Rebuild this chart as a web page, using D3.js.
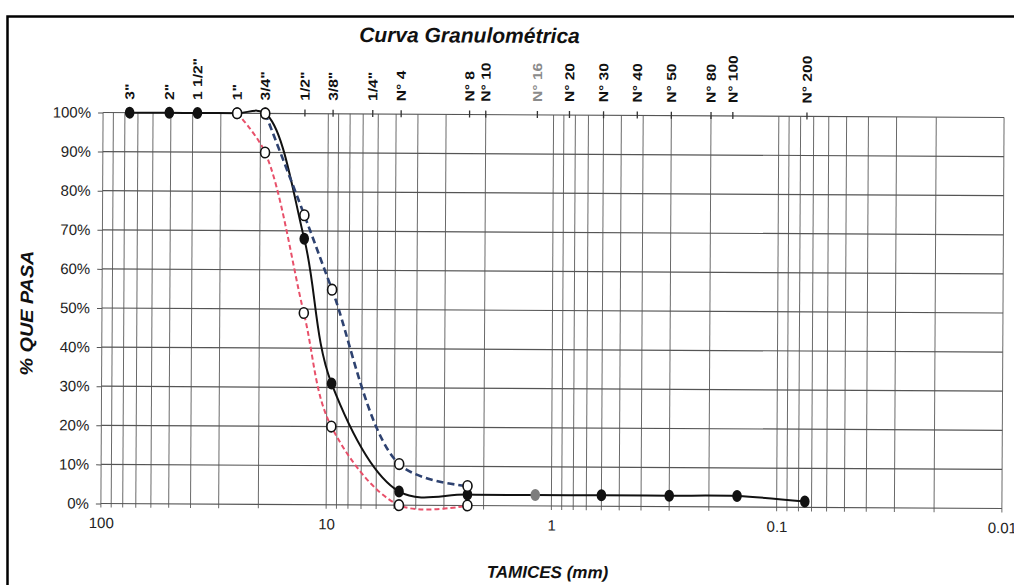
<!DOCTYPE html>
<html>
<head>
<meta charset="utf-8">
<script src="https://cdn.jsdelivr.net/npm/d3@7"></script>
<style>
  html, body { margin: 0; padding: 0; background: #fff; }
  svg { display: block; font-family: 'Liberation Sans', Arial, sans-serif; }
</style>
</head>
<body>
<div id="chart"></div>
<script>
/* global d3 */

//Sieve labels on the top axis (mm position)
var sieveLabels = ['3"', '2"', '1 1/2"', '1"', '3/4"', '1/2"', '3/8"', '1/4"', 'N° 4', 'N° 8', 'N° 10',
  'N° 16', 'N° 20', 'N° 30', 'N° 40', 'N° 50', 'N° 80', 'N° 100', 'N° 200'];
var sieveLabelMm = [76.2, 50.8, 38.1, 25.4, 19.05, 12.7, 9.525, 6.35, 4.75, 2.36, 2.0,
  1.18, 0.85, 0.6, 0.425, 0.3, 0.2, 0.16, 0.075];

//Sample (black, solid)
var sampleMm = [76.2, 50.8, 38.1, 25.4, 19.05, 12.7, 9.525, 4.75, 2.36, 1.18, 0.6, 0.3, 0.15, 0.075];
var samplePass = [100, 100, 100, 100, 100, 68, 31, 3.5, 2.8, 2.8, 2.8, 2.8, 2.8, 1.5];

//Upper limit (blue, dashed)
var upperMm = [19.05, 12.7, 9.525, 4.75, 2.36];
var upperPass = [100, 74, 55, 10.5, 5];

//Lower limit (red, dashed)
var lowerMm = [25.4, 19.05, 12.7, 9.525, 4.75, 2.36];
var lowerPass = [100, 90, 49, 20, 0, 0];

//Axis labels
var xTickValues = [100, 10, 1, 0.1, 0.01];
var xTickLabels = ['100', '10', '1', '0.1', '0.01'];
var yTickValues = [0, 10, 20, 30, 40, 50, 60, 70, 80, 90, 100];

var width = 1014, height = 585;
var tilt = 0.32; //scanned page is slightly rotated
var plotL = 102, plotR = 1003, plotT = 115, plotB = 506;
var font = "'Liberation Sans', Arial, sans-serif";

var svg = d3.select('#chart').append('svg').attr('width', width).attr('height', height);

//Page frame
svg.append('rect').attr('x', 7.5).attr('y', 16.5).attr('width', 1100).attr('height', 700)
  .attr('fill', 'none').attr('stroke', '#000').attr('stroke-width', 2.5);

var g = svg.append('g').attr('transform', 'rotate(' + tilt + ',553,307)');

var x = d3.scaleLog().domain([100, 0.01]).range([plotL, plotR]);
var y = d3.scaleLinear().domain([0, 100]).range([plotB, plotT]);

//Grid
g.append('g').selectAll('line').data(x.ticks()).enter().append('line')
  .attr('x1', function(d){ return x(d); }).attr('x2', function(d){ return x(d); })
  .attr('y1', plotT).attr('y2', plotB + 4)
  .attr('stroke', '#6a6a6a').attr('stroke-width', 1);
g.append('g').selectAll('line').data(yTickValues).enter().append('line')
  .attr('x1', plotL).attr('x2', plotR)
  .attr('y1', function(d){ return y(d); }).attr('y2', function(d){ return y(d); })
  .attr('stroke', '#555').attr('stroke-width', 1.2);

//Y axis
var yAxis = g.append('g').attr('transform', 'translate(' + plotL + ',0)')
  .call(d3.axisLeft(y).tickValues(yTickValues).tickFormat(function(d){ return d + '%'; }).tickSize(5).tickPadding(7));
yAxis.select('.domain').remove();
yAxis.selectAll('line').attr('stroke', '#555');
yAxis.selectAll('text').attr('font-family', font).attr('font-size', 15).attr('fill', '#222');

//X axis (bottom)
var xAxis = g.append('g').attr('transform', 'translate(0,' + plotB + ')')
  .call(d3.axisBottom(x).tickValues(xTickValues)
    .tickFormat(function(d, i){ return xTickLabels[i]; }).tickSize(0).tickPadding(14));
xAxis.select('.domain').remove();
xAxis.selectAll('text').attr('font-family', font).attr('font-size', 15).attr('fill', '#222');

//Top sieve ticks + labels
var sieves = sieveLabels.map(function(l, i){ return { label: l, mm: sieveLabelMm[i] }; });
g.append('g').selectAll('line').data(sieves).enter().append('line')
  .attr('x1', function(d){ return x(d.mm); }).attr('x2', function(d){ return x(d.mm); })
  .attr('y1', plotT - 4).attr('y2', plotT + 3)
  .attr('stroke', '#333').attr('stroke-width', 1.3);
g.append('g').selectAll('text').data(sieves).enter().append('text')
  .attr('transform', function(d){ return 'translate(' + (x(d.mm) + 4.5) + ',' + (plotT - 13) + ') scale(1,1.2) rotate(-90)'; })
  .attr('font-family', font).attr('font-weight', 'bold').attr('font-size', 13)
  .attr('fill', function(d){ return d.label == 'N° 16' ? '#8a8a8a' : '#111'; })
  .text(function(d){ return d.label; });

//Curves (smoothed like the spreadsheet's lines)
var line = d3.line()
  .x(function(d){ return x(d.mm); })
  .y(function(d){ return y(d.pass); })
  .curve(d3.curveCatmullRom.alpha(0.5));

var zip = function(mm, pass){ return mm.map(function(m, i){ return { mm: m, pass: pass[i] }; }); };
var sample = zip(sampleMm, samplePass);
var upper = zip(upperMm, upperPass);
var lower = zip(lowerMm, lowerPass);

g.append('path').datum(sample).attr('d', line)
  .attr('fill', 'none').attr('stroke', '#111').attr('stroke-width', 2);
g.append('g').selectAll('ellipse').data(sample).enter().append('ellipse')
  .attr('cx', function(d){ return x(d.mm); }).attr('cy', function(d){ return y(d.pass); })
  .attr('rx', 4.8).attr('ry', 6)
  .attr('fill', function(d){ return d.mm == 1.18 ? '#7d7d7d' : '#111'; });

g.append('path').datum(lower).attr('d', line)
  .attr('fill', 'none').attr('stroke', '#e8506a').attr('stroke-width', 2).attr('stroke-dasharray', '5,3');
g.append('path').datum(upper).attr('d', line)
  .attr('fill', 'none').attr('stroke', '#2e4270').attr('stroke-width', 2.6).attr('stroke-dasharray', '7,4');

g.append('g').selectAll('ellipse').data(lower.concat(upper)).enter().append('ellipse')
  .attr('cx', function(d){ return x(d.mm); }).attr('cy', function(d){ return y(d.pass); })
  .attr('rx', 4.5).attr('ry', 5.3)
  .attr('fill', '#fff').attr('stroke', '#111').attr('stroke-width', 1.6);

//Titles
g.append('text').attr('x', 468).attr('y', 43).attr('text-anchor', 'middle')
  .attr('font-family', font).attr('font-weight', 'bold').attr('font-style', 'italic').attr('font-size', 21)
  .attr('fill', '#111').text('Curva Granulométrica');
g.append('text').attr('x', 549).attr('y', 578).attr('text-anchor', 'middle')
  .attr('font-family', font).attr('font-weight', 'bold').attr('font-style', 'italic').attr('font-size', 17)
  .attr('fill', '#111').text('TAMICES (mm)');
g.append('text').attr('transform', 'translate(33,316) scale(1,1.1) rotate(-90)').attr('text-anchor', 'middle')
  .attr('font-family', font).attr('font-weight', 'bold').attr('font-style', 'italic').attr('font-size', 18)
  .attr('fill', '#111').text('% QUE PASA');
</script>
</body>
</html>
